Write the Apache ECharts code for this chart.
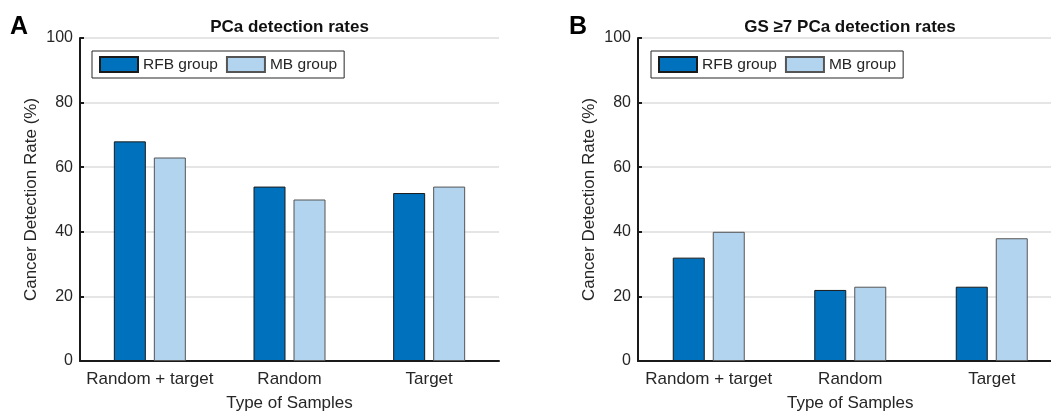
<!DOCTYPE html>
<html>
<head>
<meta charset="utf-8">
<script src="https://cdn.jsdelivr.net/npm/echarts@6/dist/echarts.min.js"></script>
<style>
html,body{margin:0;padding:0;background:#fff;}
#chart{width:1051px;height:413px;}
</style>
</head>
<body>
<div id="chart"></div>
<script>
// ---- Data ----
const categories = ['Random + target', 'Random', 'Target'];
const seriesNames = ['RFB group', 'MB group'];
const rfbA = [68, 54, 52];
const mbA = [63, 50, 54];
const rfbB = [32, 22, 23];
const mbB = [40, 23, 38];
const yMin = 0, yMax = 100, yInterval = 20;
const panelLetters = ['A', 'B'];
const panelTitles = ['PCa detection rates', 'GS \u22657 PCa detection rates'];
const yName = 'Cancer Detection Rate (%)';
const xName = 'Type of Samples';

// ---- Styles ----
const FONT = "'Liberation Sans', Arial, Helvetica, sans-serif";
const TXT = '#262626';
const RFB_COLOR = '#0072BD';
const MB_COLOR = '#B3D4EF';

const grids = [
  {left: 80, top: 38, width: 419, height: 323, outerBoundsMode: 'none', containLabel: false},
  {left: 638, top: 38, width: 424.5, height: 323, outerBoundsMode: 'none', containLabel: false}
];

function xAxisFor(i) {
  return {
    type: 'category', gridIndex: i, data: categories, boundaryGap: true,
    axisLine: {lineStyle: {color: '#1a1a1a', width: 2}},
    axisTick: {alignWithLabel: true, inside: true, length: 5, interval: 0, lineStyle: {color: '#1a1a1a', width: 2}},
    axisLabel: {fontFamily: FONT, fontSize: 17, color: TXT, margin: 10, interval: 0},
    name: xName, nameLocation: 'middle', nameGap: 34,
    nameTextStyle: {fontFamily: FONT, fontSize: 17, color: TXT}
  };
}
function yAxisFor(i) {
  return {
    type: 'value', gridIndex: i, min: yMin, max: yMax, interval: yInterval,
    axisLine: {show: true, lineStyle: {color: '#1a1a1a', width: 2}},
    axisTick: {show: true, inside: true, length: 4, lineStyle: {color: '#1a1a1a', width: 2}},
    axisLabel: {fontFamily: FONT, fontSize: 16, color: TXT, margin: 7},
    splitLine: {show: true, lineStyle: {color: '#dcdcdc', width: 1.5}},
    name: yName, nameLocation: 'middle', nameGap: 40,
    nameTextStyle: {fontFamily: FONT, fontSize: 17, color: TXT}
  };
}
function barSeries(name, data, i, color, border) {
  return {
    type: 'bar', name: name, data: data, xAxisIndex: i, yAxisIndex: i,
    barWidth: 32, barGap: '25%',
    itemStyle: {color: color, borderColor: border, borderWidth: 1},
    emphasis: {disabled: true}
  };
}
function legendFor(left) {
  return {
    data: seriesNames, left: left, top: 51, orient: 'horizontal',
    icon: 'rect', itemWidth: 38, itemHeight: 15, itemGap: 8,
    padding: [5, 7], borderColor: '#262626', borderWidth: 1,
    textStyle: {fontFamily: FONT, fontSize: 15.5, color: TXT},
    selectedMode: false
  };
}

const chart = echarts.init(document.getElementById('chart'), null, {renderer: 'canvas'});
chart.setOption({
  animation: false,
  backgroundColor: '#fff',
  grid: grids,
  xAxis: [xAxisFor(0), xAxisFor(1)],
  yAxis: [yAxisFor(0), yAxisFor(1)],
  legend: [legendFor(92), legendFor(651)],
  series: [
    barSeries(seriesNames[0], rfbA, 0, RFB_COLOR, '#1a1a1a'),
    barSeries(seriesNames[1], mbA, 0, MB_COLOR, '#555555'),
    barSeries(seriesNames[0], rfbB, 1, RFB_COLOR, '#1a1a1a'),
    barSeries(seriesNames[1], mbB, 1, MB_COLOR, '#555555')
  ],
  graphic: [
    {type: 'text', left: 10, top: 15, style: {text: panelLetters[0], font: 'bold 25px ' + FONT, fill: '#000'}},
    {type: 'text', left: 569, top: 15, style: {text: panelLetters[1], font: 'bold 25px ' + FONT, fill: '#000'}},
    {type: 'text', x: 289.5, y: 27.5, style: {text: panelTitles[0], font: 'bold 17px ' + FONT, fill: '#111', align: 'center', verticalAlign: 'middle'}},
    {type: 'text', x: 850, y: 27.5, style: {text: panelTitles[1], font: 'bold 17px ' + FONT, fill: '#111', align: 'center', verticalAlign: 'middle'}}
  ]
});
</script>
</body>
</html>
